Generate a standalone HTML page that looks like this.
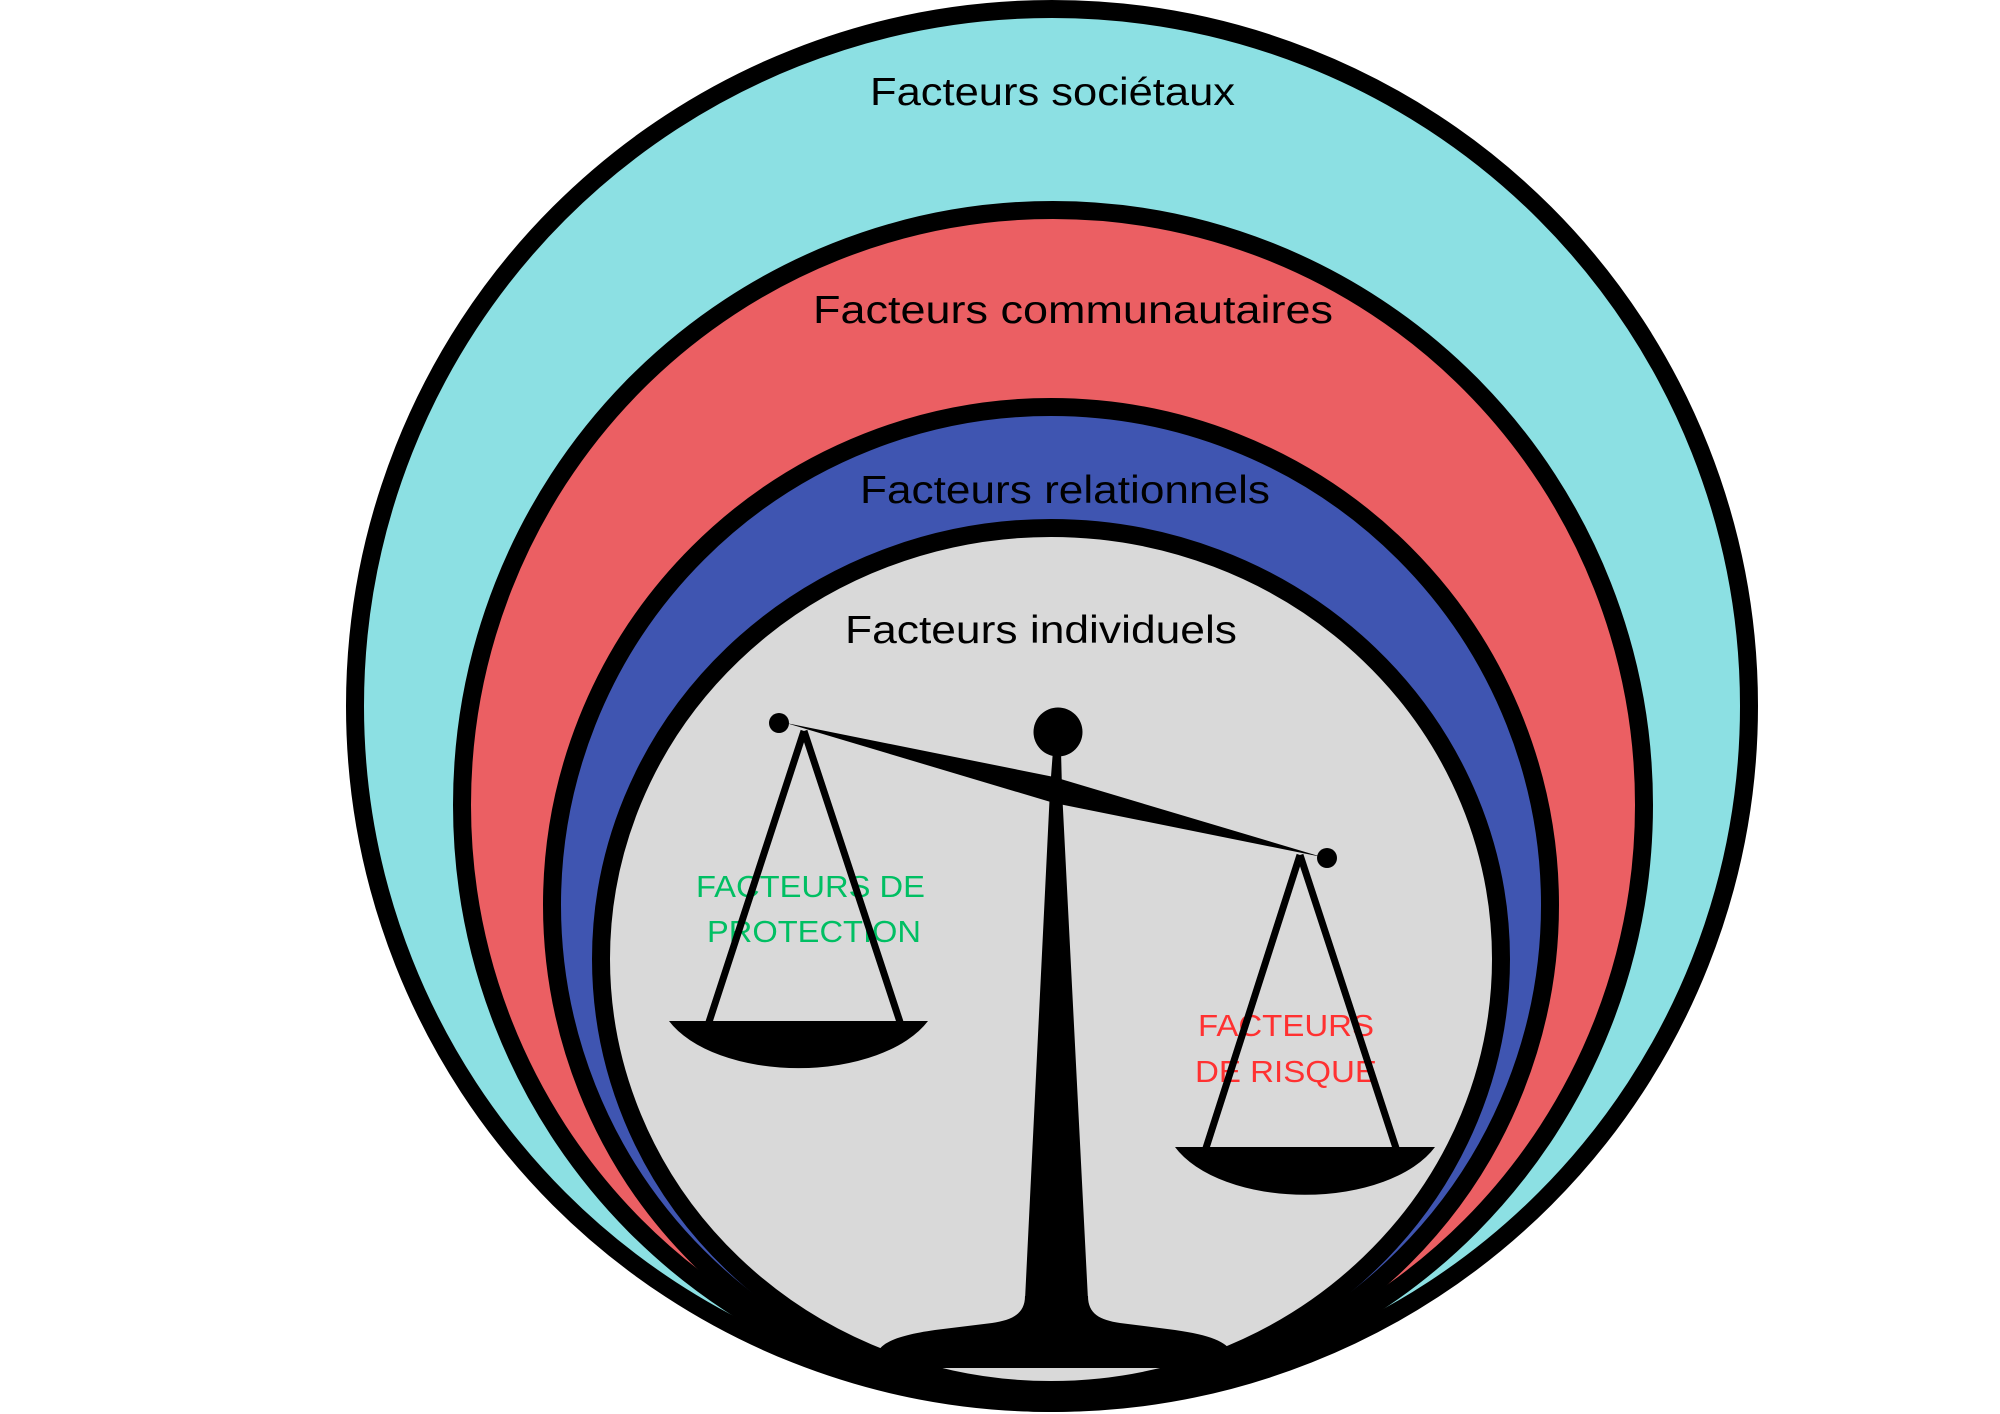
<!DOCTYPE html>
<html>
<head>
<meta charset="utf-8">
<style>
  html, body { margin:0; padding:0; background:#ffffff; }
  svg { display:block; }
  text { font-family: "Liberation Sans", sans-serif; }
</style>
</head>
<body>
<svg width="2000" height="1414" viewBox="0 0 2000 1414" xmlns="http://www.w3.org/2000/svg">
  <rect width="2000" height="1414" fill="#ffffff"/>
  <!-- Ellipses -->
  <ellipse cx="1052" cy="706" rx="697" ry="697" fill="#8ce0e3" stroke="#000" stroke-width="18"/>
  <ellipse cx="1053" cy="805" rx="591" ry="595" fill="#eb5f63" stroke="#000" stroke-width="18"/>
  <ellipse cx="1051" cy="905" rx="499" ry="498" fill="#3f55b1" stroke="#000" stroke-width="18"/>
  <ellipse cx="1051" cy="959" rx="450" ry="431" fill="#d9d9d9" stroke="#000" stroke-width="18"/>

  <!-- Titles -->
  <text x="870" y="105" font-size="39" fill="#000" textLength="365" lengthAdjust="spacingAndGlyphs">Facteurs sociétaux</text>
  <text x="813" y="323" font-size="39" fill="#000" textLength="520" lengthAdjust="spacingAndGlyphs">Facteurs communautaires</text>
  <text x="860" y="503" font-size="39" fill="#000" textLength="410" lengthAdjust="spacingAndGlyphs">Facteurs relationnels</text>
  <text x="845" y="643" font-size="39" fill="#000" textLength="392" lengthAdjust="spacingAndGlyphs">Facteurs individuels</text>

  <!-- Labels -->
  <text x="696" y="897" font-size="31" fill="#00bf63" textLength="229" lengthAdjust="spacingAndGlyphs">FACTEURS DE</text>
  <text x="707" y="942" font-size="31" fill="#00bf63" textLength="214" lengthAdjust="spacingAndGlyphs">PROTECTION</text>
  <text x="1198" y="1036" font-size="31" fill="#ff3131" textLength="176" lengthAdjust="spacingAndGlyphs">FACTEURS</text>
  <text x="1195" y="1082" font-size="31" fill="#ff3131" textLength="182" lengthAdjust="spacingAndGlyphs">DE RISQUE</text>

  <!-- Scale -->
  <g fill="#000" stroke="none">
    <!-- stem -->
    <polygon points="1053,750 1061,750 1062,790 1088,1300 1025,1300 1050,790"/>
    <!-- base -->
    <path d="M1025,1296 C1025,1314 1012,1320 992,1323 L935,1330 C900,1335 882,1342 878,1352 L876,1368 L1233,1368 L1231,1352 C1227,1342 1210,1335 1175,1330 L1120,1323 C1100,1320 1088,1314 1088,1296 Z"/>
    <!-- top knob -->
    <circle cx="1058" cy="732" r="24.5"/>
    <!-- beam -->
    <polygon points="786,723 1054,777 1322,857 1054,803"/>
    <!-- end knobs -->
    <circle cx="779" cy="723" r="10"/>
    <circle cx="1327" cy="858" r="10"/>
    <!-- pans -->
    <path d="M669,1021 L928,1021 A140 76 0 0 1 669,1021 Z"/>
    <path d="M1175,1147 L1435,1147 A140 76 0 0 1 1175,1147 Z"/>
  </g>
  <g stroke="#000" stroke-width="7" fill="none" stroke-linecap="butt">
    <line x1="804" y1="731" x2="709" y2="1022"/>
    <line x1="804" y1="731" x2="900" y2="1022"/>
    <line x1="1300" y1="855" x2="1206" y2="1148"/>
    <line x1="1300" y1="855" x2="1396" y2="1148"/>
  </g>
</svg>
</body>
</html>
